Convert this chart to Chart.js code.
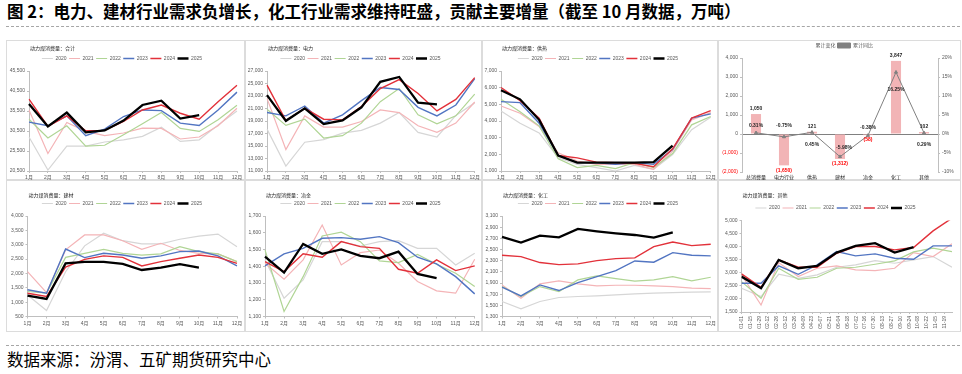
<!DOCTYPE html>
<html>
<head>
<meta charset="utf-8"/>
<script src="https://cdn.jsdelivr.net/npm/chart.js@4.4.1/dist/chart.umd.min.js"></script>
<style>
  body { margin:0; width:962px; height:374px; background:#fff; position:relative; overflow:hidden; font-family:"Noto Sans CJK SC", sans-serif; }
  #title { position:absolute; left:7px; top:0px; font-size:16.5px; font-weight:bold; color:#000; white-space:nowrap; line-height:22px; }
  #source { position:absolute; left:7px; top:348px; font-size:16.5px; color:#000; white-space:nowrap; line-height:22px; }
  .dash { position:absolute; left:6px; width:954px; height:0; border-top:1px dashed #a6a6a6; }
  .panel { position:absolute; box-sizing:border-box; border:1px solid #dcdcdc; }
  .panel canvas { position:absolute; left:-1px; top:-1px; }
</style>
</head>
<body>
<div id="title">图 2：电力、建材行业需求负增长，化工行业需求维持旺盛，贡献主要增量（截至 10 月数据，万吨）</div>
<div class="dash" style="top:26px"></div>

<div class="panel" style="left:6px;top:40px;width:239px;height:140px"><canvas id="c1" width="239" height="140"></canvas></div>
<div class="panel" style="left:245px;top:40px;width:237px;height:140px"><canvas id="c2" width="237" height="140"></canvas></div>
<div class="panel" style="left:482px;top:40px;width:236px;height:140px"><canvas id="c3" width="236" height="140"></canvas></div>
<div class="panel" style="left:718px;top:40px;width:243px;height:140px"><canvas id="c4" width="243" height="140"></canvas></div>
<div class="panel" style="left:6px;top:180px;width:239px;height:152px"><canvas id="c5" width="239" height="152"></canvas></div>
<div class="panel" style="left:245px;top:180px;width:237px;height:152px"><canvas id="c6" width="237" height="152"></canvas></div>
<div class="panel" style="left:482px;top:180px;width:236px;height:152px"><canvas id="c7" width="236" height="152"></canvas></div>
<div class="panel" style="left:718px;top:180px;width:243px;height:152px"><canvas id="c8" width="243" height="152"></canvas></div>

<div class="dash" style="top:345px"></div>
<div id="source">数据来源：汾渭、五矿期货研究中心</div>

<script>
// ---- data ----
const years = ['2020', '2021', '2022', '2023', '2024', '2025'];
const months = ['1月', '2月', '3月', '4月', '5月', '6月', '7月', '8月', '9月', '10月', '11月', '12月'];

// 合计
const totalValues = [
  [29000, 20750, 26700, 26700, 27750, 28300, 29150, 31470, 27900, 28300, 32000, 35500],
  [35760, 24870, 32630, 30400, 29330, 30000, 31230, 31150, 28500, 29000, 31800, 36180],
  [33450, 28750, 31800, 26700, 26940, 29570, 32300, 35100, 31150, 30400, 33290, 36920],
  [32710, 31800, 34280, 29330, 30980, 34120, 35760, 35600, 32460, 31890, 35760, 40220],
  [38490, 31640, 34280, 30570, 30650, 32880, 35760, 37000, 34940, 33450, 37830, 41950],
  [37250, 31640, 35100, 30150, 30650, 33120, 37000, 38070, 33620, 34440]
];
// 电力
const powerValues = [
  [17700, 11790, 15600, 16020, 17070, 17500, 18660, 20350, 17180, 16440, 19900, 21900],
  [22620, 14430, 19820, 18020, 18020, 18920, 20770, 20350, 18230, 17180, 18660, 22040],
  [20880, 18290, 19290, 16280, 16650, 18660, 22090, 24200, 19980, 18550, 19820, 23300],
  [20350, 19820, 21400, 18660, 19980, 22250, 24360, 24040, 21190, 19820, 21560, 25790],
  [24730, 19080, 21030, 19290, 19180, 21300, 24200, 25630, 23410, 20610, 22460, 25940],
  [23150, 19030, 21030, 18500, 19080, 21190, 25260, 26050, 21930, 21670]
];
// 供热
const heatValues = [
  [4600, 3870, 3280, 1790, 1400, 1200, 1000, 1340, 1100, 1990, 3480, 4230],
  [4900, 4470, 3670, 2090, 1600, 1400, 1400, 1400, 1100, 2190, 4070, 4500],
  [5300, 4560, 3710, 1730, 1200, 1340, 1140, 1500, 1200, 2050, 3770, 4270],
  [5160, 5100, 3870, 1930, 1500, 1500, 1400, 1500, 1400, 2290, 4170, 4430],
  [6010, 5220, 4170, 1930, 1790, 1530, 1500, 1460, 1260, 2330, 4170, 4620],
  [5850, 5300, 4070, 1930, 1500, 1500, 1500, 1500, 1530, 2520]
];
// 建材
const buildValues = [
  [1250, 710, 2060, 2960, 3400, 3140, 3030, 3030, 3190, 3300, 3370, 2930],
  [2060, 1330, 2820, 3340, 3340, 3140, 2840, 3050, 2800, 2700, 2680, 2410],
  [1370, 1310, 2560, 2700, 2840, 2700, 2640, 2680, 2930, 2760, 2680, 2410],
  [1430, 1310, 2850, 2550, 2700, 2640, 2530, 2610, 2760, 2780, 2610, 2260],
  [1310, 1200, 2220, 2490, 2610, 2560, 2260, 2410, 2530, 2640, 2560, 2350],
  [1230, 1110, 2350, 2400, 2400, 2330, 2120, 2200, 2320, 2200]
];
// 冶金
const metalValues = [
  [1438, 1209, 1318, 1547, 1547, 1521, 1547, 1553, 1507, 1507, 1408, 1477],
  [1418, 1323, 1438, 1646, 1408, 1481, 1497, 1418, 1309, 1253, 1239, 1442],
  [1497, 1130, 1338, 1581, 1603, 1547, 1432, 1422, 1471, 1412, 1358, 1279],
  [1402, 1474, 1507, 1567, 1571, 1561, 1577, 1541, 1454, 1414, 1338, 1235],
  [1428, 1368, 1474, 1454, 1547, 1517, 1507, 1382, 1358, 1438, 1374, 1402],
  [1458, 1362, 1533, 1474, 1501, 1462, 1448, 1487, 1354, 1329]
];
// 化工
const chemValues = [
  [1568, 1437, 1568, 1640, 1658, 1670, 1687, 1705, 1717, 1729, 1735, 1741],
  [1866, 1628, 1884, 1938, 1884, 1848, 1860, 1860, 1848, 1836, 1807, 1801],
  [1836, 1658, 1836, 1747, 1956, 2027, 1980, 1932, 1956, 2015, 1938, 2003],
  [1825, 1670, 1866, 1765, 1908, 2015, 2123, 2295, 2272, 2444, 2397, 2385],
  [2397, 2373, 2266, 2230, 2242, 2301, 2337, 2349, 2552, 2635, 2570, 2593],
  [2725, 2623, 2748, 2719, 2868, 2826, 2790, 2760, 2713, 2808]
];
// 其他 (date axis, monthly points)
const otherDays = [0, 31, 59, 90, 120, 151, 181, 212, 243, 273, 304, 334];
const otherTickLabels = ['01-01', '01-15', '01-29', '02-12', '02-26', '03-12', '03-26', '04-09', '04-23', '05-07', '05-21', '06-04',
  '06-18', '07-02', '07-16', '07-30', '08-13', '08-27', '09-10', '09-24', '10-08', '10-22', '11-05', '11-19'];
const otherValues = [
  [2407, 2088, 2943, 2790, 2918, 3212, 3300, 3467, 3365, 3493, 3620, 3212],
  [2918, 1768, 3390, 2854, 3173, 3263, 3110, 3085, 3173, 3774, 3620, 4106],
  [2662, 2024, 3173, 2752, 2828, 3173, 3212, 3327, 3455, 3800, 3940, 3812],
  [2599, 2599, 3263, 2943, 3300, 3812, 3646, 3723, 3557, 3518, 4029, 4029],
  [2956, 2445, 3493, 3212, 3212, 3748, 4004, 4004, 3876, 3965, 4604, 5089],
  [2854, 2407, 3493, 3173, 3263, 3774, 4029, 4132, 3774, 3978]
];

// 累计变化 / 累计同比
const sectorNames = ['总消费量', '电力行业', '供热', '建材', '冶金', '化工', '其他'];
const sectorChange = [1050, -1650, 121, -1312, -58, 3847, 102];
const sectorYoy = [0.31, -0.75, 0.45, -5.98, -0.38, 16.25, 0.29];

// ---- styling ----
const yearColors = ['#d6d6d6', '#f4b4b7', '#b0d595', '#5275c2', '#e2313a', '#000000'];
const yearWidths = [1.2, 1.2, 1.2, 1.4, 1.4, 2.3];
const tickColor = '#595959';
const axisColor = '#bfbfbf';

Chart.defaults.font.family = '"Liberation Sans", "Noto Sans CJK SC", sans-serif';
Chart.defaults.font.size = 5;
Chart.defaults.color = tickColor;
Chart.defaults.animation = false;

const panelTitle = {
  id: 'panelTitle',
  afterDraw(chart, args, opts) {
    const ctx = chart.ctx;
    ctx.save();
    ctx.font = '5px "Noto Sans CJK SC"';
    ctx.fillStyle = '#262626';
    ctx.textBaseline = 'middle';
    ctx.fillText(opts.text, chart.chartArea.left + 1, opts.y);
    ctx.restore();
  }
};

function legendOpts() {
  return {
    position: 'top',
    labels: {
      usePointStyle: true, pointStyle: 'line', pointStyleWidth: 11, boxHeight: 5,
      padding: 2.5, font: { size: 5 }, color: tickColor,
      sort: (a, b) => a.datasetIndex - b.datasetIndex
    }
  };
}

function lineDatasets(values, xs) {
  return values.map((vals, i) => ({
    label: years[i],
    data: xs ? vals.map((v, j) => ({ x: xs[j], y: v })) : vals,
    borderColor: yearColors[i],
    backgroundColor: yearColors[i],
    borderWidth: yearWidths[i],
    pointRadius: 0,
    tension: 0,
    order: 5 - i
  }));
}

function yScale(min, max, step, width) {
  return {
    min: min, max: max,
    ticks: { stepSize: step, padding: 2, color: tickColor, font: { size: 5 } },
    grid: { drawOnChartArea: false, tickLength: 2, color: axisColor },
    border: { color: axisColor },
    afterFit: s => { s.width = width; }
  };
}

function linePanel(id, title, values, min, max, step, g) {
  new Chart(document.getElementById(id), {
    type: 'line',
    data: { labels: months, datasets: lineDatasets(values) },
    options: {
      responsive: false,
      layout: { padding: { left: g.left, right: g.right, top: g.top, bottom: 0 } },
      plugins: {
        legend: legendOpts(),
        tooltip: { enabled: false },
        panelTitle: { text: title, y: g.titleY }
      },
      scales: {
        x: {
          offset: false,
          ticks: { autoSkip: false, maxRotation: 0, padding: 2, color: tickColor, font: { size: 5 } },
          grid: { drawOnChartArea: false, tickLength: 2, color: axisColor },
          border: { color: axisColor },
          afterFit: s => { s.height = g.xh; }
        },
        y: yScale(min, max, step, g.yw)
      }
    },
    plugins: [panelTitle]
  });
}

const row1 = { top: 13.5, titleY: 8, xh: 9 };
const row2 = { top: 18.5, titleY: 15, xh: 15.5 };

linePanel('c1', '动力煤消费量：合计', totalValues, 20500, 45500, 5000, Object.assign({ left: 1, right: 8, yw: 22 }, row1));
linePanel('c2', '动力煤消费量：电力', powerValues, 11000, 27000, 2000, Object.assign({ left: 1, right: 7, yw: 21 }, row1));
linePanel('c3', '动力煤消费量：供热', heatValues, 1000, 7000, 1000, Object.assign({ left: 1, right: 5, yw: 18 }, row1));
linePanel('c5', '动力煤消费量：建材', buildValues, 500, 4000, 500, Object.assign({ left: 1, right: 8, yw: 20.5 }, row2));
linePanel('c6', '动力煤消费量：冶金', metalValues, 1100, 1700, 100, Object.assign({ left: 1, right: 7, yw: 19 }, row2));
linePanel('c7', '动力煤消费量：化工', chemValues, 1300, 3100, 200, Object.assign({ left: 1, right: 5, yw: 19 }, row2));

// 其他: date axis
new Chart(document.getElementById('c8'), {
  type: 'line',
  data: { datasets: lineDatasets(otherValues, otherDays) },
  options: {
    responsive: false,
    layout: { padding: { left: 1, right: 9, top: 23, bottom: 0 } },
    plugins: {
      legend: legendOpts(),
      tooltip: { enabled: false },
      panelTitle: { text: '动力煤消费量：其他', y: 15 }
    },
    scales: {
      x: {
        type: 'linear', min: otherDays[0], max: otherDays[otherDays.length - 1],
        afterBuildTicks: s => { s.ticks = otherTickLabels.map((t, i) => ({ value: i * 14 })); },
        ticks: {
          autoSkip: false, minRotation: 90, maxRotation: 90, padding: 2, color: tickColor, font: { size: 5 },
          callback: (v, i) => otherTickLabels[i]
        },
        grid: { drawOnChartArea: false, tickLength: 2, color: axisColor },
        border: { color: axisColor },
        afterFit: s => { s.height = 20; }
      },
      y: yScale(1500, 5000, 500, 22.5)
    }
  },
  plugins: [panelTitle]
});

// 累计变化 + 累计同比
const fmt = v => v.toLocaleString('en-US');
const sectorLabels = {
  id: 'sectorLabels',
  afterDatasetsDraw(chart) {
    const ctx = chart.ctx;
    const bars = chart.getDatasetMeta(0).data;
    const pts = chart.getDatasetMeta(1).data;
    const dy = [-7, -11, 12, -9, -8, 17, 12];
    const dx = [0, 0, 0, 4, 0, 0, 0];
    ctx.save();
    ctx.font = 'bold 5px "Liberation Sans"';
    ctx.textAlign = 'center';
    ctx.textBaseline = 'middle';
    bars.forEach((b, i) => {
      const v = sectorChange[i];
      if (v >= 0) {
        ctx.fillStyle = '#262626';
        ctx.fillText(fmt(v), b.x, b.y - 5);
      } else {
        ctx.fillStyle = '#ff0000';
        ctx.fillText('(' + fmt(-v) + ')', b.x, b.y + 5);
      }
    });
    ctx.fillStyle = '#262626';
    pts.forEach((p, i) => {
      ctx.fillText(sectorYoy[i].toFixed(2) + '%', p.x + dx[i], p.y + dy[i]);
    });
    ctx.restore();
  }
};

new Chart(document.getElementById('c4'), {
  type: 'bar',
  data: {
    labels: sectorNames,
    datasets: [
      {
        type: 'bar', label: '累计变化', data: sectorChange, yAxisID: 'y',
        backgroundColor: '#f2b4b6', borderWidth: 0,
        barPercentage: 0.36, categoryPercentage: 1, order: 2
      },
      {
        type: 'line', label: '累计同比', data: sectorYoy, yAxisID: 'y1',
        borderColor: '#808080', backgroundColor: '#808080', borderWidth: 1,
        pointStyle: 'triangle', pointRadius: 1.8, tension: 0, order: 1
      }
    ]
  },
  options: {
    responsive: false,
    layout: { padding: { left: 1, right: 7, top: 1, bottom: 0 } },
    plugins: {
      legend: {
        position: 'top',
        labels: {
          usePointStyle: true, pointStyleWidth: 13, boxHeight: 5, padding: 2, font: { size: 5 }, color: tickColor,
          sort: (a, b) => a.datasetIndex - b.datasetIndex,
          generateLabels: chart => Chart.defaults.plugins.legend.labels.generateLabels(chart).map((l, i) => {
            l.pointStyle = i === 0 ? 'rect' : 'line';
            return l;
          })
        }
      },
      tooltip: { enabled: false }
    },
    scales: {
      x: {
        type: 'category',
        ticks: { display: true, autoSkip: false, maxRotation: 0, padding: 3, color: '#262626', font: { size: 5 } },
        grid: { display: false, drawTicks: false },
        border: { display: false },
        afterFit: s => { s.height = 8; }
      },
      y: {
        min: -2000, max: 4000,
        ticks: {
          stepSize: 1000, padding: 2, font: { size: 5 },
          color: c => (c.tick && c.tick.value < 0 ? '#ff0000' : tickColor),
          callback: v => (v < 0 ? '(' + fmt(-v) + ')' : fmt(v))
        },
        grid: { color: c => (c.tick && c.tick.value === 0 ? '#808080' : 'rgba(0,0,0,0)'), tickColor: axisColor, tickLength: 2 },
        border: { color: axisColor },
        afterFit: s => { s.width = 23; }
      },
      y1: {
        position: 'right', min: -10, max: 20,
        ticks: { stepSize: 5, padding: 2, font: { size: 5 }, color: tickColor, callback: v => v + '%' },
        grid: { drawOnChartArea: false, tickLength: 2, color: axisColor },
        border: { color: axisColor },
        afterFit: s => { s.width = 16; }
      }
    }
  },
  plugins: [sectorLabels]
});
</script>
</body>
</html>
